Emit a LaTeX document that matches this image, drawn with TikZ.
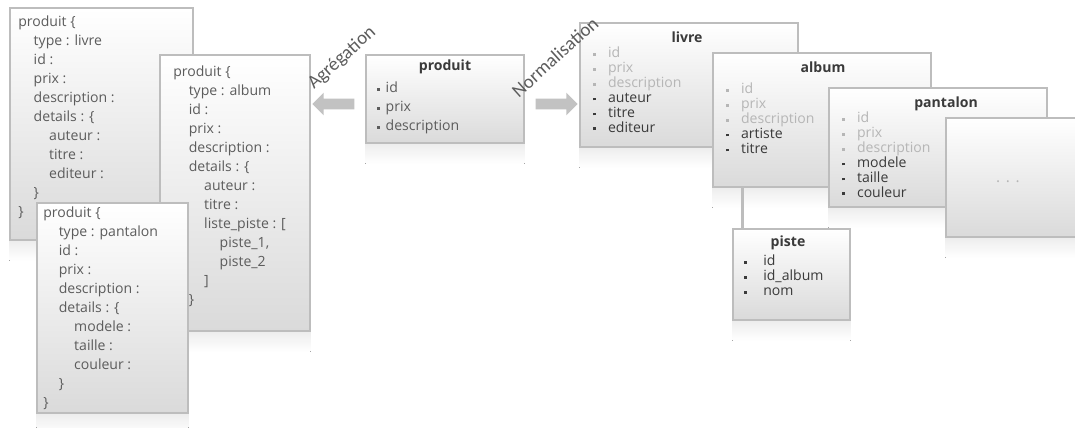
\documentclass[tikz,border=0pt]{standalone}
\usepackage{fontspec}
\setmainfont{Open Sans}
\newfontfamily\etiquette{Carlito}
\usetikzlibrary{positioning,fit,shapes.arrows}

\pgfdeclarelayer{arriere}
\pgfsetlayers{arriere,main}

\definecolor{bord}{HTML}{BDBDBD}
\definecolor{fond}{HTML}{DADADA}
\definecolor{texte}{HTML}{5C5C5C}
\definecolor{fonce}{HTML}{3A3A3A}
\definecolor{clair}{HTML}{B6B6B6}
\definecolor{fleche}{HTML}{C2C2C2}

\newcommand{\ind}{\hspace*{11pt}}
\newcommand{\puce}{\raisebox{0.3ex}{\rule{2pt}{2pt}}}
\newcommand{\champ}[3][8.5pt]{\textcolor{#2}{\puce\hspace{#1}#3}}

\tikzset{
  boite/.style={draw=bord, line width=1pt, top color=white, bottom color=fond, inner sep=0pt},
  reflet/.style={top color=gray!14, bottom color=white, draw=none},
  json/.style={text=texte, align=left, anchor=north west, inner sep=0pt, font=\fontsize{10}{13.5}\selectfont},
  champs/.style={align=left, anchor=north west, inner sep=0pt, font=\fontsize{10}{10.6}\selectfont},
  titre/.style={text=fonce, inner sep=0pt, font=\bfseries\fontsize{10}{11}\selectfont},
  grossefleche/.style={single arrow, fill=fleche, draw=none, minimum width=0.55cm, minimum height=1.05cm, single arrow head extend=0.15cm, inner xsep=0pt, inner ysep=0.125cm},
  legende/.style={text=texte, inner sep=0pt, rotate=42, font=\etiquette\fontsize{13.5}{14}\selectfont},
  lien/.style={draw=bord, line width=2pt}
}

\begin{document}
\begin{tikzpicture}[x=0.025cm, y=-0.025cm]
\clip (0,0) rectangle (1075,427);

% agregation : documents json
\node[boite, fit={(10,8) (193,240)}] (jlivre) {};
\node[json] (tjlivre) at (18,16) {produit \{\\
\ind type : livre\\
\ind id :\\
\ind prix :\\
\ind description :\\
\ind details : \{\\
\ind\ind auteur :\\
\ind\ind titre :\\
\ind\ind editeur :\\
\ind \}\\
\}};

\node[boite, fit={(160,55) (310,331)}] (jalbum) {};
\node[json] (tjalbum) at (173,66) {produit \{\\
\ind type : album\\
\ind id :\\
\ind prix :\\
\ind description :\\
\ind details : \{\\
\ind\ind auteur :\\
\ind\ind titre :\\
\ind\ind liste\_piste : [\\
\ind\ind\ind piste\_1,\\
\ind\ind\ind piste\_2\\
\ind\ind ]\\
\ind \}\\
\}};

\node[boite, fit={(37,203) (188,413)}] (jpantalon) {};
\node[json] (tjpantalon) at (43,207) {produit \{\\
\ind type : pantalon\\
\ind id :\\
\ind prix :\\
\ind description :\\
\ind details : \{\\
\ind\ind modele :\\
\ind\ind taille :\\
\ind\ind couleur :\\
\ind \}\\
\}};

% produit commun
\node[boite, fit={(366,55) (524,143)}] (produit) {};
\node[titre] (tproduit) at (445,67) {produit};
\node[champs, font=\fontsize{10}{13.5}\selectfont, text=texte] (cproduit) at (377,82) {\champ[4pt]{texte}{id}\\
\champ[4pt]{texte}{prix}\\
\champ[4pt]{texte}{description}};

\node[grossefleche, shape border rotate=180] (fagr) at (336,104) {};
\node[grossefleche] (fnorm) at (554,104) {};

% normalisation : tables
\node[boite, fit={(580,23) (798,147)}] (livre) {};
\node[titre] (tlivre) at (687,37) {livre};
\node[champs] (clivre) at (593,47) {\champ{clair}{id}\\
\champ{clair}{prix}\\
\champ{clair}{description}\\
\champ{fonce}{auteur}\\
\champ{fonce}{titre}\\
\champ{fonce}{editeur}};

\node[boite, fit={(713,53) (931,187)}] (album) {};
\node[titre] (talbum) at (823,67) {album};
\node[champs] (calbum) at (726,83) {\champ{clair}{id}\\
\champ{clair}{prix}\\
\champ{clair}{description}\\
\champ{fonce}{artiste}\\
\champ{fonce}{titre}};

\node[boite, fit={(829,88) (1047,207)}] (pantalon) {};
\node[titre] (tpantalon) at (946,104) {pantalon};
\node[champs] (cpantalon) at (842,112) {\champ{clair}{id}\\
\champ{clair}{prix}\\
\champ{clair}{description}\\
\champ{fonce}{modele}\\
\champ{fonce}{taille}\\
\champ{fonce}{couleur}};

\node[boite, fit={(946,118) (1085,237)}] (autres) {};
\node[text=clair, font=\fontsize{11}{12}\selectfont] (tautres) at (1008,182) {.\hspace{4pt}.\hspace{4pt}.};

\node[boite, fit={(733,229) (850,320)}] (piste) {};
\node[titre] (tpiste) at (788,243) {piste};
\node[champs] (cpiste) at (744,255) {\champ[11.5pt]{fonce}{id}\\
\champ[11.5pt]{fonce}{id\_album}\\
\champ[11.5pt]{fonce}{nom}};

\draw[lien] ([xshift=0.25cm]piste.north west) -- ([xshift=0.25cm]piste.north west |- album.south);

% legendes des fleches
\node[legende] (lagr) at (342,58) {Agrégation};
\node[legende] (lnorm) at (555,57) {Normalisation};

\begin{pgfonlayer}{arriere}
\foreach \b in {jlivre,jalbum,jpantalon,produit,livre,album,pantalon,autres,piste}
  \fill[reflet] (\b.south west) rectangle ([yshift=-0.5cm]\b.south east);
\end{pgfonlayer}
\end{tikzpicture}
\end{document}
